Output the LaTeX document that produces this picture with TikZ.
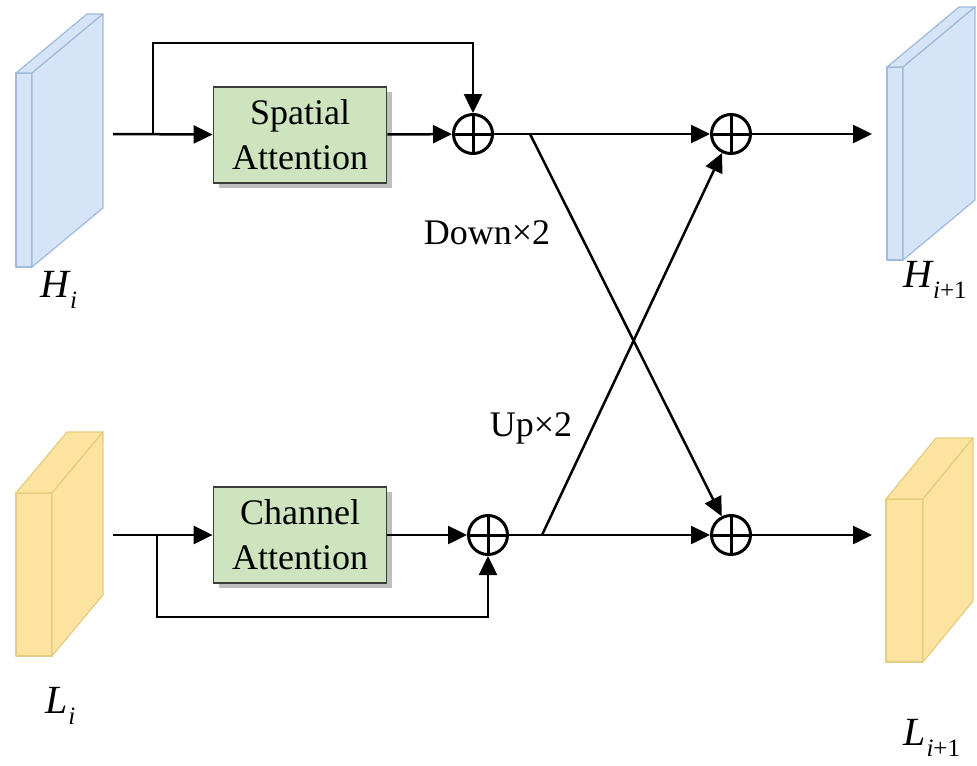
\documentclass[tikz,border=0pt]{standalone}
\usepackage{fontspec}
\setmainfont{Liberation Serif}
\usetikzlibrary{arrows.meta,shadows,calc}
\definecolor{hblueF}{RGB}{214,228,247}
\definecolor{hblueD}{RGB}{160,186,222}
\definecolor{lyelF}{RGB}{252,228,160}
\definecolor{lyelD}{RGB}{228,204,128}
\definecolor{boxF}{RGB}{205,228,190}
\definecolor{boxD}{RGB}{60,60,60}
\newcommand{\myprism}[7]{%
  \filldraw[#7] (#1,#2) rectangle ++(#3,#4);
  \filldraw[#7] (#1,#2) -- ++(#3,0) -- ++(#5,#6) -- ++(-#3,0) -- cycle;
  \filldraw[#7] (#1+#3,#2) -- ++(#5,#6) -- ++(0,#4) -- ++(-#5,-#6) -- cycle;
}
\newcommand{\lowsub}[1]{\kern0.5pt\raisebox{-0.28em}{\fontsize{12.5}{14}\selectfont #1}}
\begin{document}
\begin{tikzpicture}[x=0.5pt,y=-0.5pt,line width=1.25pt,
  arr/.style={-{Triangle[length=9.5pt,width=9pt]}},
  hprism/.style={fill=hblueF,draw=hblueD,line width=0.6pt,line join=round},
  lprism/.style={fill=lyelF,draw=lyelD,line width=0.6pt,line join=round},
  oplus/.style={circle,draw,line width=1.5pt,minimum size=19.5pt,inner sep=0pt,
    path picture={\draw[line width=1.5pt] (path picture bounding box.north) -- (path picture bounding box.south)
      (path picture bounding box.west) -- (path picture bounding box.east);}},
  att/.style={draw=boxD,fill=boxF,line width=0.9pt,minimum width=86.5pt,minimum height=48pt,
    inner sep=0pt,align=center,font=\fontsize{18}{22.5}\selectfont,
    drop shadow={shadow xshift=2.5pt,shadow yshift=-2.5pt,opacity=0.25,fill=black}},
  lbl/.style={font=\fontsize{18}{22}\selectfont},
  var/.style={anchor=base west,inner sep=0pt,font=\fontsize{20}{24}\selectfont\itshape}]
\useasboundingbox (0,0) rectangle (977,765);
% feature maps
\myprism{16}{73}{16}{194}{71}{-59}{hprism}
\myprism{887}{67}{16}{193}{72}{-60}{hprism}
\myprism{16}{493}{36}{163}{51}{-61}{lprism}
\myprism{886}{499}{37}{163}{50}{-61}{lprism}
\node[var] (hi) at (39,297) {H\lowsub{i}};
\node[var] (hi1) at (902,287) {H\lowsub{i\upshape +1}};
\node[var] (li) at (44,713) {L\lowsub{i}};
\node[var] (li1) at (902,745) {L\lowsub{i\upshape +1}};
% blocks
\node[att] (sa) at (300,135) {Spatial\\Attention};
\node[att] (ca) at (300,535) {Channel\\Attention};
\node[oplus] (c1) at (473,134) {};
\node[oplus] (c2) at (731,134) {};
\node[oplus] (c3) at (488,535) {};
\node[oplus] (c4) at (731,535) {};
% coordinates
\coordinate (hin) at (113,134);
\coordinate (hb) at (153,134);
\coordinate (htop) at (153,43);
\coordinate (lin) at (113,535);
\coordinate (lb) at (157,535);
\coordinate (lbot) at (157,617);
\coordinate (dstart) at (530,134);
\coordinate (ustart) at (542,535);
\coordinate (hout) at (872,134);
\coordinate (lout) at (872,535);
% top row
\draw[arr] (hin) -- (sa);
\draw[arr] (hb) -- (htop) -| (c1);
\draw[arr] (sa) -- (c1);
\draw[arr] (c1) -- (c2);
\draw[arr] (c2) -- (hout);
% bottom row
\draw[arr] (lin) -- (ca);
\draw[arr] (lb) -- (lbot) -| (c3);
\draw[arr] (ca) -- (c3);
\draw[arr] (c3) -- (c4);
\draw[arr] (c4) -- (lout);
% cross
\draw[arr] (dstart) -- (c4);
\draw[arr] (ustart) -- (c2);
\node[lbl] (down) at (487,233) {Down×2};
\node[lbl] (up) at (531,428) {Up×2};
\end{tikzpicture}
\end{document}
